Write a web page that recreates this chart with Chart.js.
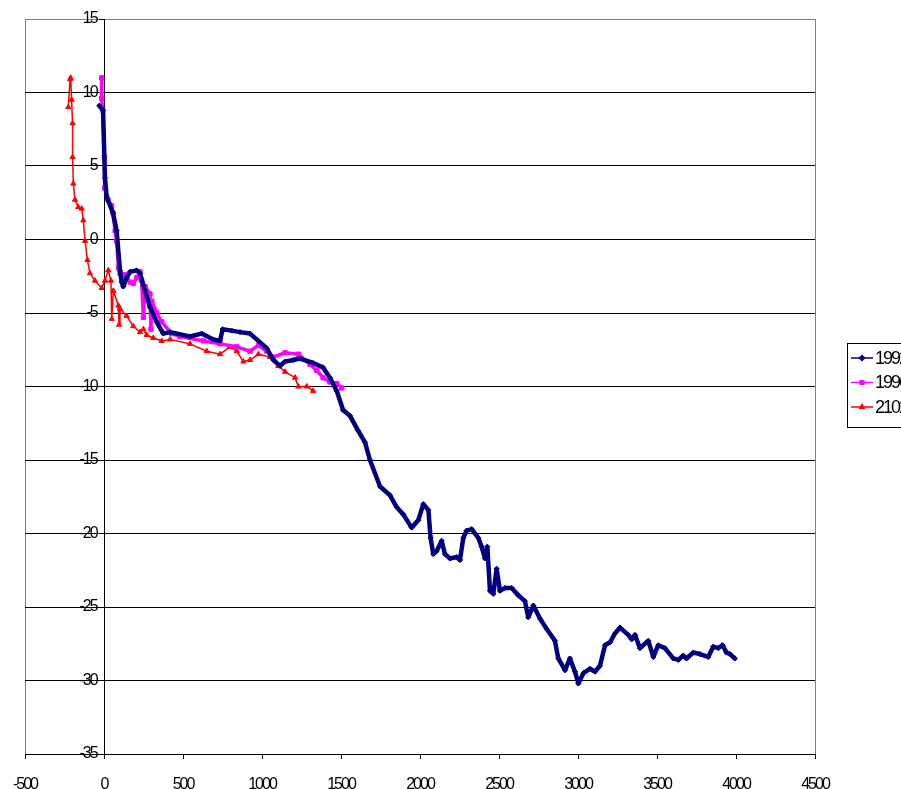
<!DOCTYPE html>
<html>
<head>
<meta charset="utf-8">
<script src="https://cdn.jsdelivr.net/npm/chart.js@4/dist/chart.umd.min.js"></script>
<style>
    html, body { margin: 0; padding: 0; background: #fff; overflow: hidden; }
    #wrap { width: 901px; height: 789px; }
</style>
</head>
<body>
<div id="wrap"><canvas id="depthChart" width="901" height="789"></canvas></div>
<script>
// Series 1992 (navy)
const x1992 = [-30, -6, 6, 17, 57, 80, 101, 112, 122, 143, 165, 207, 228, 249, 291, 333, 375, 418, 544, 618,
    692, 734, 751, 808, 861, 924, 977, 1030, 1072, 1114, 1146, 1198, 1240, 1323, 1386, 1430, 1473, 1513, 1557, 1608,
    1652, 1683, 1747, 1810, 1852, 1894, 1947, 1989, 2021, 2053, 2067, 2084, 2105, 2137, 2158, 2190, 2232, 2253, 2274, 2295,
    2327, 2369, 2390, 2411, 2426, 2443, 2464, 2485, 2506, 2538, 2580, 2622, 2664, 2685, 2717, 2760, 2802, 2854, 2875, 2918,
    2949, 2981, 3002, 3034, 3076, 3108, 3139, 3171, 3203, 3234, 3266, 3318, 3340, 3361, 3392, 3445, 3477, 3508, 3550, 3603,
    3635, 3666, 3687, 3729, 3771, 3824, 3856, 3888, 3915, 3940, 3961, 3993];
const y1992 = [9.1, 8.8, 4.2, 2.9, 1.8, 0.6, -2.1, -2.9, -3.2, -2.6, -2.2, -2.1, -2.3, -3.1, -4.6, -5.6, -6.4, -6.3, -6.6, -6.4,
    -6.8, -6.9, -6.1, -6.2, -6.3, -6.4, -6.9, -7.4, -8.2, -8.6, -8.3, -8.2, -8.1, -8.4, -8.7, -9.4, -10.3, -11.6, -12.0, -13.0,
    -13.8, -15.0, -16.8, -17.4, -18.2, -18.7, -19.6, -19.1, -18.0, -18.4, -20.3, -21.4, -21.2, -20.5, -21.4, -21.7, -21.6, -21.8, -20.3, -19.8,
    -19.7, -20.3, -20.9, -21.7, -20.9, -23.9, -24.1, -22.4, -23.9, -23.7, -23.7, -24.2, -24.6, -25.7, -24.9, -25.8, -26.5, -27.3, -28.5, -29.3,
    -28.5, -29.4, -30.2, -29.5, -29.2, -29.4, -29.0, -27.6, -27.4, -26.8, -26.4, -26.9, -27.2, -26.9, -27.8, -27.3, -28.4, -27.6, -27.8, -28.5,
    -28.6, -28.3, -28.5, -28.1, -28.2, -28.4, -27.7, -27.8, -27.6, -28.1, -28.2, -28.5];

// Series 1996 (magenta)
const x1996 = [-15, -15, -8, 2, 4, 25, 48, 57, 70, 80, 91, 101, 133, 165, 185, 207, 228, 238, 249, 260,
    291, 297, 303, 333, 365, 428, 481, 629, 734, 840, 924, 977, 1030, 1072, 1146, 1230, 1304, 1346, 1386, 1430,
    1473, 1504];
const y1996 = [11.0, 9.6, 8.8, 5.6, 3.5, 2.7, 2.3, 1.8, 0.6, -0.1, -1.9, -2.3, -2.4, -2.9, -3.0, -2.6, -2.2, -2.8, -5.3, -3.2,
    -3.7, -6.1, -4.2, -5.0, -5.6, -6.4, -6.6, -6.9, -7.1, -7.3, -7.6, -7.2, -7.6, -8.0, -7.7, -7.8, -8.5, -8.9, -9.4, -9.7,
    -9.8, -10.1];

// Series 2102 (red)
const x2102 = [-226, -215, -211, -205, -199, -199, -194, -184, -163, -141, -131, -120, -105, -89, -57, -15, 6, 27, 44, 49,
    59, 91, 95, 101, 143, 185, 228, 249, 270, 312, 365, 418, 544, 650, 734, 797, 840, 882, 924, 977,
    1050, 1103, 1146, 1209, 1230, 1283, 1323];
const y2102 = [9.0, 10.9, 11.0, 9.5, 7.9, 5.6, 3.8, 2.7, 2.2, 2.1, 1.3, -0.1, -1.4, -2.3, -2.8, -3.3, -2.8, -2.1, -2.8, -5.4,
    -3.5, -4.5, -5.8, -4.7, -5.2, -5.9, -6.3, -6.1, -6.5, -6.7, -6.9, -6.8, -7.1, -7.6, -7.8, -7.3, -7.6, -8.3, -8.2, -7.8,
    -8.0, -8.6, -9.0, -9.4, -10.0, -10.0, -10.3];

const seriesLabels = ['1992', '1996', '2102'];

const fontFamily = "'Liberation Sans', Arial, sans-serif";
const tickFont = { family: fontFamily, size: 16 };

function toPoints(xs, ys) {
    return xs.map((x, i) => ({ x: x, y: ys[i] }));
}

// squeeze the text a bit, the original uses a narrow face
const narrowText = {
    id: 'narrowText',
    beforeUpdate(chart) { chart.ctx.letterSpacing = '-2px'; },
    beforeDraw(chart) { chart.ctx.letterSpacing = '-2px'; }
};

// Legend drawn like the old spreadsheet box, clipped at the right edge
const legendBox = {
    id: 'legendBox',
    afterDraw(chart) {
        const ctx = chart.ctx;
        ctx.save();
        ctx.strokeStyle = '#000';
        ctx.lineWidth = 1;
        ctx.strokeRect(847.5, 343.5, 90, 84);
        chart.data.datasets.forEach((ds, i) => {
            const y = 358 + i * 24.5;
            ctx.strokeStyle = ds.borderColor;
            ctx.lineWidth = 1.5;
            ctx.beginPath();
            ctx.moveTo(851, y);
            ctx.lineTo(873, y);
            ctx.stroke();
            ctx.fillStyle = ds.borderColor;
            Chart.helpers.drawPoint(ctx, {
                pointStyle: ds.pointStyle,
                radius: 2.5,
                borderWidth: 1,
                rotation: 0
            }, 862, y);
            ctx.fillStyle = '#000';
            ctx.letterSpacing = '-2px';
            ctx.font = '18px ' + fontFamily;
            ctx.textBaseline = 'middle';
            ctx.textAlign = 'left';
            ctx.fillText(ds.label, 875, y + 1);
        });
        ctx.restore();
    }
};

document.addEventListener('DOMContentLoaded', () => {
    const ctx = document.getElementById('depthChart').getContext('2d');

    new Chart(ctx, {
        type: 'scatter',
        data: {
            datasets: [
                {
                    label: seriesLabels[0],
                    data: toPoints(x1992, y1992),
                    showLine: true,
                    borderColor: '#000080',
                    backgroundColor: '#000080',
                    borderWidth: 4.5,
                    borderJoinStyle: 'round',
                    borderCapStyle: 'round',
                    pointStyle: 'rectRot',
                    pointRadius: 2.5,
                    pointBorderWidth: 1,
                    tension: 0
                },
                {
                    label: seriesLabels[1],
                    data: toPoints(x1996, y1996),
                    showLine: true,
                    borderColor: '#FF00FF',
                    backgroundColor: '#FF00FF',
                    borderWidth: 3.5,
                    borderJoinStyle: 'round',
                    pointStyle: 'rect',
                    pointRadius: 3,
                    pointBorderWidth: 1,
                    tension: 0
                },
                {
                    label: seriesLabels[2],
                    data: toPoints(x2102, y2102),
                    showLine: true,
                    borderColor: '#FF0000',
                    backgroundColor: '#FF0000',
                    borderWidth: 1.5,
                    pointStyle: 'triangle',
                    pointRadius: 3,
                    pointBorderWidth: 1,
                    tension: 0
                }
            ]
        },
        options: {
            responsive: false,
            animation: false,
            layout: { padding: { left: 25, right: 86, top: 19, bottom: 0 } },
            plugins: {
                legend: { display: false },
                tooltip: { enabled: false }
            },
            scales: {
                x: {
                    type: 'linear',
                    min: -500,
                    max: 4500,
                    ticks: { stepSize: 500, color: '#000', font: tickFont, padding: 16, callback: (v) => String(v) },
                    grid: {
                        color: (c) => (c.tick && (c.tick.value === -500 || c.tick.value === 4500)) ? '#808080' : 'rgba(0,0,0,0)',
                        tickColor: '#000',
                        tickLength: 5
                    },
                    border: { color: '#000', width: 1 },
                    afterFit: (s) => {
                        s.height = 35;
                        s.paddingLeft = 0;
                        s.paddingRight = 0;
                    }
                },
                y: {
                    type: 'linear',
                    min: -35,
                    max: 15,
                    position: { x: 0 },
                    // trailing spaces keep the labels just left of the axis line
                    ticks: { stepSize: 5, color: '#000', font: tickFont, padding: 2, callback: (v) => v + '   ' },
                    grid: {
                        color: (c) => (c.tick && c.tick.value === 15) ? '#808080' : '#000',
                        tickColor: '#000',
                        tickLength: 5
                    },
                    border: { color: '#000', width: 1 },
                    afterFit: (s) => {
                        s.width = 0;
                        s.paddingLeft = 0;
                        s.paddingRight = 0;
                        s.paddingTop = 0;
                        s.paddingBottom = 0;
                    }
                }
            }
        },
        plugins: [narrowText, legendBox]
    });
});
</script>
</body>
</html>
